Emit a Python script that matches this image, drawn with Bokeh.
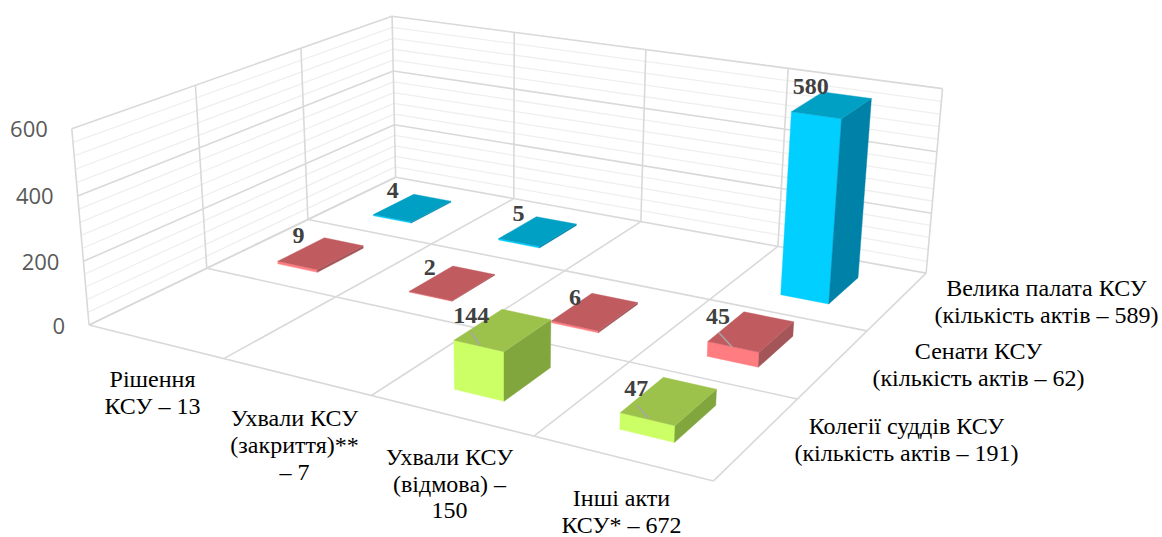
import numpy as np
from bokeh.plotting import figure
from bokeh.models import Range1d
from bokeh.core.properties import value
from bokeh.embed import file_html
from bokeh.resources import INLINE

# ---- data ----
categories = ["Рішення\nКСУ – 13", "Ухвали КСУ\n(закриття)**\n– 7", "Ухвали КСУ\n(відмова) –\n150", "Інші акти\nКСУ* – 672"]
series_names = ["Колегії суддів КСУ\n(кількість актів – 191)", "Сенати КСУ\n(кількість актів – 62)", "Велика палата КСУ\n(кількість актів – 589)"]
kolehii = [None, None, 144, 47]
senaty = [9, 2, 6, 45]
velyka = [4, 5, None, 580]
z_ticks = [0, 200, 400, 600]
z_minor = [40, 80, 120, 160, 240, 280, 320, 360, 440, 480, 520, 560]
n_cat, n_ser = 4, 3
z_max = 600.0

# ---- camera: calibrated from the plot box (category, series, value) -> page px ----
CALIB = [
    (0, 0, 0, 88, 325), (1, 0, 0, 223, 358), (2, 0, 0, 372, 395), (3, 0, 0, 535, 436), (4, 0, 0, 713, 481),
    (0, 3, 0, 395, 177), (1, 3, 0, 513, 197), (2, 3, 0, 640, 221), (3, 3, 0, 778, 246), (4, 3, 0, 927, 273),
    (0, 1, 0, 206, 268), (0, 2, 0, 308, 219), (4, 1, 0, 795, 398), (4, 2, 0, 865, 330),
    (0, 0, 600, 71, 127), (0, 1, 600, 195, 85), (0, 2, 600, 301, 48), (0, 3, 600, 392, 16),
    (1, 3, 600, 513, 32), (2, 3, 600, 645, 49), (3, 3, 600, 787, 68), (4, 3, 600, 943, 88),
]
rows = []
for u, v, z, X, Y in CALIB:
    t = z / z_max
    X, Y = X / 1000.0, Y / 1000.0
    rows.append([u, v, t, 1, 0, 0, 0, 0, -X * u, -X * v, -X * t, -X])
    rows.append([0, 0, 0, 0, u, v, t, 1, -Y * u, -Y * v, -Y * t, -Y])
P = np.linalg.svd(np.array(rows, float))[2][-1].reshape(3, 4)


def project(u, v, z):
    h = P @ np.array([u, v, z / z_max, 1.0])
    return 1000.0 * h[0] / h[2], 1000.0 * h[1] / h[2]


def path(pts):
    xy = [project(*q) for q in pts]
    return [a for a, _ in xy], [b for _, b in xy]


W, H = 1162, 537
p = figure(width=W, height=H, output_backend="svg", toolbar_location=None,
           x_range=Range1d(0, W), y_range=Range1d(H, 0), min_border=0)
p.xaxis.visible = False
p.yaxis.visible = False
p.grid.visible = False
p.outline_line_color = None
p.background_fill_color = "white"
p.border_fill_color = "white"

# ---- walls: minor grid ----
xs, ys = [], []
for z in z_minor:
    a, b = path([(0, 0, z), (0, n_ser, z), (n_cat, n_ser, z)])
    xs.append(a); ys.append(b)
p.multi_line(xs, ys, line_color="#EFEFEF", line_width=1.3)

# ---- walls and floor: major grid ----
xs, ys = [], []
for z in z_ticks:
    a, b = path([(0, 0, z), (0, n_ser, z), (n_cat, n_ser, z)])
    xs.append(a); ys.append(b)
for v in range(n_ser + 1):
    a, b = path([(0, v, 0), (0, v, z_max)]); xs.append(a); ys.append(b)
for u in range(1, n_cat + 1):
    a, b = path([(u, n_ser, 0), (u, n_ser, z_max)]); xs.append(a); ys.append(b)
for v in range(n_ser):
    a, b = path([(0, v, 0), (n_cat, v, 0)]); xs.append(a); ys.append(b)
for u in range(n_cat + 1):
    a, b = path([(u, 0, 0), (u, n_ser, 0)]); xs.append(a); ys.append(b)
p.multi_line(xs, ys, line_color="#D9D9D9", line_width=1.6)

# ---- bars ----
MU, MV = 0.345, 0.265
STYLES = {
    0: ("#CCFF66", "#82A63E", "#9DC24C"),
    1: ("#FF7C80", "#A35558", "#C05C60"),
    2: ("#00CFFF", "#0082A8", "#00A0C4"),
}
values_by_series = [kolehii, senaty, velyka]
LABEL_OFFSETS = {(2, 3): (-12, -5), (2, 0): (-21, -4), (1, 0): (-26, -2), (2, 1): (-18, -3),
                 (1, 1): (-23, 1), (1, 2): (-17, 4), (0, 2): (-31, 6), (1, 3): (-26, 5), (0, 3): (-27, 11)}
LEADERS = {(0, 2): ((0, 17), (9, 30)), (1, 3): ((1, 16), (14, 30)), (0, 3): ((1, 17), (12, 30))}

lbl_x, lbl_y, lbl_t, lead_x, lead_y = [], [], [], [], []
for s in reversed(range(n_ser)):
    front, side, top = STYLES[s]
    for c in range(n_cat):
        val = values_by_series[s][c]
        if val is None:
            continue
        u0, u1 = c + MU, c + 1 - MU
        v0, v1 = s + MV, s + 1 - MV
        faces = [
            ([(u0, v0, 0), (u1, v0, 0), (u1, v0, val), (u0, v0, val)], front),
            ([(u1, v0, 0), (u1, v1, 0), (u1, v1, val), (u1, v0, val)], side),
            ([(u0, v0, val), (u1, v0, val), (u1, v1, val), (u0, v1, val)], top),
        ]
        for pts, col in faces:
            a, b = path(pts)
            p.patch(a, b, fill_color=col, line_color=col, line_width=0.4)
        bx, by = project(u0, v1, val)
        dx, dy = LABEL_OFFSETS[(s, c)]
        lx, ly = bx + dx, by + dy
        lbl_x.append(lx); lbl_y.append(ly); lbl_t.append(str(val))
        if (s, c) in LEADERS:
            (a0, b0), (a1, b1) = LEADERS[(s, c)]
            lead_x.append([lx + a0, lx + a1]); lead_y.append([ly + b0, ly + b1])

p.multi_line(lead_x, lead_y, line_color="#A6A6A6", line_width=1.5)
p.text(lbl_x, lbl_y, text=lbl_t, text_font=value("Liberation Serif"), text_font_style="bold",
       text_font_size="24px", text_color="#404040", text_align="center", text_baseline="middle")

# ---- value axis labels ----
tx, ty, tt = [], [], []
for z in z_ticks:
    a, b = project(0, 0, z)
    tx.append(a - 24); ty.append(b + 0.5); tt.append(str(z))
p.text(tx, ty, text=tt, text_font=value("Open Sans"), text_font_size="22px", text_color="#595959",
       text_align="right", text_baseline="middle")

# ---- category and series labels ----
LINE_GAP = 27


def put_lines(label, cx, cy):
    parts = label.split("\n")
    p.text([cx] * len(parts), [cy + i * LINE_GAP for i in range(len(parts))], text=parts,
           text_font=value("Liberation Serif"), text_font_size="24px", text_color="#000000",
           text_align="center", text_baseline="middle")


cat_pos = [(152, 378), (294, 417), (449, 456), (621, 497.5)]
for lab, (cx, cy) in zip(categories, cat_pos):
    put_lines(lab, cx, cy)
ser_pos = [(906, 425), (978, 350), (1046, 287.5)]
for lab, (cx, cy) in zip(series_names, ser_pos):
    put_lines(lab, cx, cy)

open("out.html", "w").write(file_html(p, INLINE))
